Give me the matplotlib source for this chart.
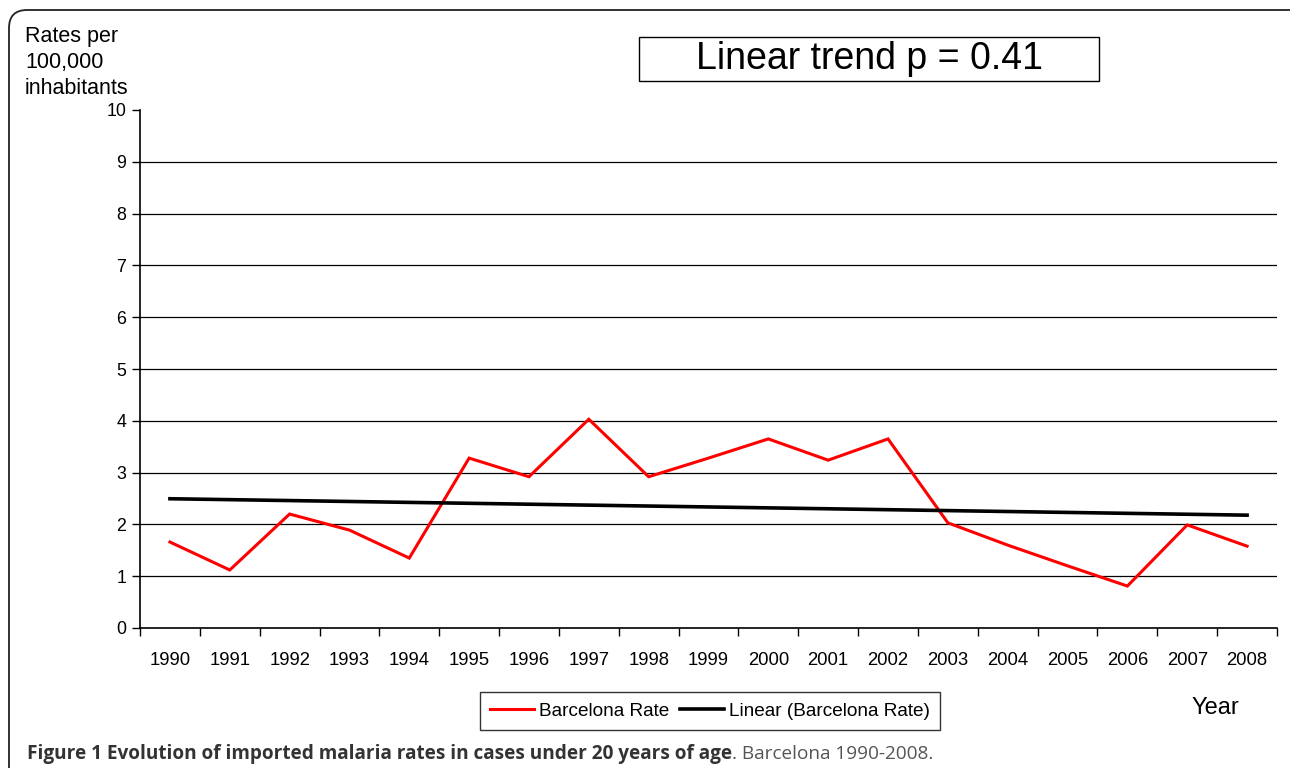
import matplotlib.pyplot as plt
import numpy as np
from matplotlib.patches import FancyBboxPatch, Rectangle

# data
years = ['1990', '1991', '1992', '1993', '1994', '1995', '1996', '1997', '1998', '1999',
         '2000', '2001', '2002', '2003', '2004', '2005', '2006', '2007', '2008']
barcelona_rate = [1.66, 1.12, 2.20, 1.89, 1.35, 3.28, 2.92, 4.03, 2.92, 3.28,
                  3.65, 3.24, 3.65, 2.03, 1.60, 1.20, 0.81, 1.99, 1.58]
y_ticks = [0, 1, 2, 3, 4, 5, 6, 7, 8, 9, 10]

plt.rcParams['font.family'] = ['Liberation Sans', 'DejaVu Sans']

W, H = 1290, 768
fig = plt.figure(figsize=(W / 100, H / 100), dpi=100)

# rounded outer frame
frame = FancyBboxPatch((9 / W, -0.2), 1.2, 1 - 10 / H + 0.2,
                       boxstyle='round,pad=0,rounding_size=0.014',
                       transform=fig.transFigure, fill=False,
                       edgecolor='#222222', linewidth=1.3,
                       mutation_aspect=W / H)
fig.patches.append(frame)

ax = fig.add_axes([140 / W, 1 - 628 / H, (1277 - 140) / W, (628 - 110) / H])

x = np.arange(len(years))
slope, intercept = np.polyfit(x, barcelona_rate, 1)
trend = slope * x + intercept

ax.plot(x, barcelona_rate, color='#ff0000', lw=2.2, label='Barcelona Rate',
        solid_joinstyle='miter', zorder=3)
ax.plot(x, trend, color='black', lw=2.6, label='Linear (Barcelona Rate)', zorder=3)

ax.set_xlim(-0.5, len(years) - 0.5)
ax.set_ylim(0, 10)
ax.set_yticks(y_ticks)
ax.set_yticklabels([str(v) for v in y_ticks], fontsize=12.8)
for v in y_ticks[1:-1]:
    ax.axhline(v, color='black', lw=0.9, zorder=1)

ax.set_xticks(np.arange(-0.5, len(years), 1.0))
ax.set_xticklabels([])
ax.set_xticks(x, minor=True)
ax.set_xticklabels(years, minor=True, fontsize=13.3)
ax.tick_params(axis='x', which='major', length=6, width=1, direction='out')
ax.tick_params(axis='x', which='minor', length=0, pad=17)
ax.tick_params(axis='y', length=6, width=1, direction='out', pad=4)

for side in ['top', 'right']:
    ax.spines[side].set_visible(False)
for side in ['left', 'bottom']:
    ax.spines[side].set_linewidth(1.2)

fig.text(25 / W, 1 - 26 / H, 'Rates per\n100,000\ninhabitants', fontsize=15.5,
         ha='left', va='top', linespacing=1.32)
fig.text(1215 / W, 1 - 708 / H, 'Year', fontsize=17, ha='center', va='center')

fig.patches.append(Rectangle((639 / W, 1 - 81 / H), 460 / W, 44 / H,
                             transform=fig.transFigure, facecolor='white',
                             edgecolor='black', linewidth=1.0))
fig.text(869 / W, 1 - 59 / H, 'Linear trend p = 0.41', fontsize=27,
         ha='center', va='center')

leg = ax.legend(loc='center', bbox_to_anchor=(710 / W, 1 - 711 / H),
                bbox_transform=fig.transFigure, ncol=2, fontsize=13.7,
                frameon=True, fancybox=False, handlelength=2.3,
                handletextpad=0.25, columnspacing=0.6, borderpad=0.55,
                borderaxespad=0)
leg.get_frame().set_edgecolor('black')
leg.get_frame().set_linewidth(1.0)

# caption with bold lead-in
cap_font = ['Open Sans', 'DejaVu Sans']
t1 = fig.text(27 / W, 1 - 754 / H,
              'Figure 1 Evolution of imported malaria rates in cases under 20 years of age',
              fontsize=13.7, fontweight='bold', family=cap_font, color='#333333',
              ha='left', va='center')
fig.canvas.draw()
bb = t1.get_window_extent()
fig.text(bb.x1 / W, 1 - 754 / H, '. Barcelona 1990-2008.', fontsize=13.7,
         family=cap_font, color='#555555', ha='left', va='center')

fig.savefig('out.png', dpi=100, facecolor='white')
